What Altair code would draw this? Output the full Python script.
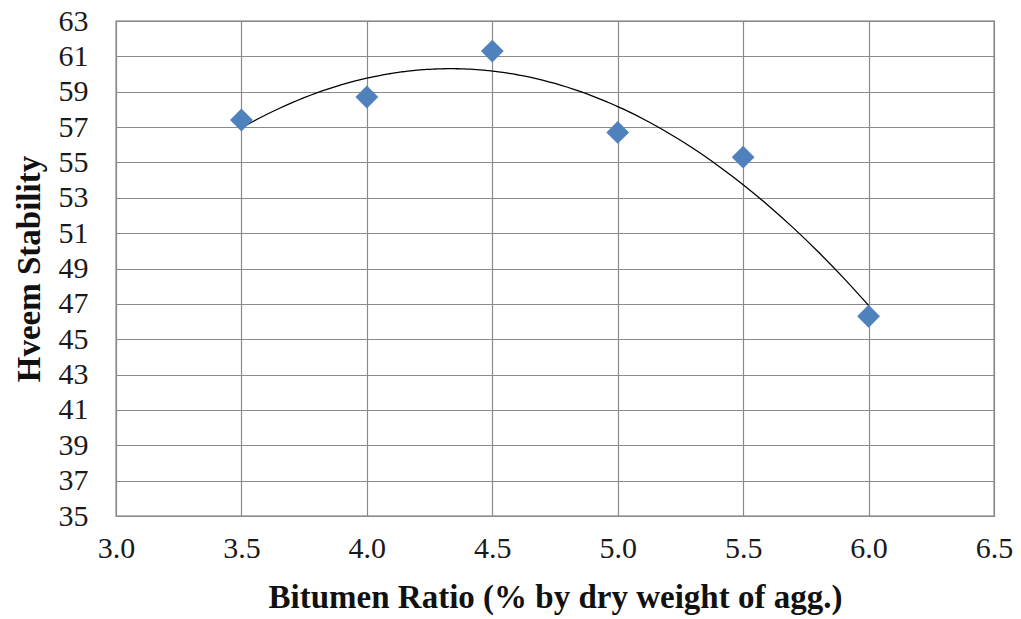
import altair as alt
import pandas as pd

bitumen = [3.5, 4.0, 4.5, 5.0, 5.5, 6.0]
stability = [57.4, 58.7, 61.3, 56.7, 55.3, 46.3]
x_ticks = [3.0, 3.5, 4.0, 4.5, 5.0, 5.5, 6.0, 6.5]
y_ticks = list(range(35, 64, 2))

df = pd.DataFrame({"x": bitumen, "y": stability})

FONT = "Liberation Serif"

xscale = alt.Scale(domain=[3.0, 6.5], nice=False, zero=False)
yscale = alt.Scale(domain=[35, 63], nice=False, zero=False)

xaxis = alt.Axis(
    title="Bitumen Ratio (% by dry weight of agg.)",
    values=x_ticks,
    format=".1f",
    ticks=False,
    domain=False,
    labelPadding=17,
    titlePadding=18,
    labelOverlap=False,
    labelFlush=False,
    grid=True,
)
yaxis = alt.Axis(
    title="Hveem Stability",
    values=y_ticks,
    format="d",
    ticks=False,
    domain=False,
    labelPadding=28,
    titlePadding=12,
    labelOverlap=False,
    labelFlush=False,
    grid=True,
)

base = alt.Chart(df).encode(
    x=alt.X("x:Q", scale=xscale, axis=xaxis),
    y=alt.Y("y:Q", scale=yscale, axis=yaxis),
)

trend = base.transform_regression(
    "x", "y", method="poly", order=2, extent=[3.5, 6.0]
).mark_line(color="black", strokeWidth=1.3, interpolate="monotone")

pts = base.mark_point(
    shape="diamond", filled=True, size=520, color="#4F81BD", opacity=1
)

chart = (
    alt.layer(trend, pts)
    .properties(
        width=878,
        height=495,
        autosize=alt.AutoSizeParams(type="none"),
        padding={"left": 108, "top": 13, "right": 19, "bottom": 100},
        background="white",
    )
    .configure_view(stroke="#6f6f6f", strokeWidth=1.3)
    .configure_axis(
        labelFont=FONT,
        titleFont=FONT,
        labelFontSize=30,
        titleFontSize=33,
        labelColor="#1a1a1a",
        titleColor="#111111",
        titleFontWeight="bold",
        gridColor="#8a8a8a",
        gridWidth=1.2,
    )
)

chart.save("out.html", embed_options={"renderer": "svg", "actions": False})
